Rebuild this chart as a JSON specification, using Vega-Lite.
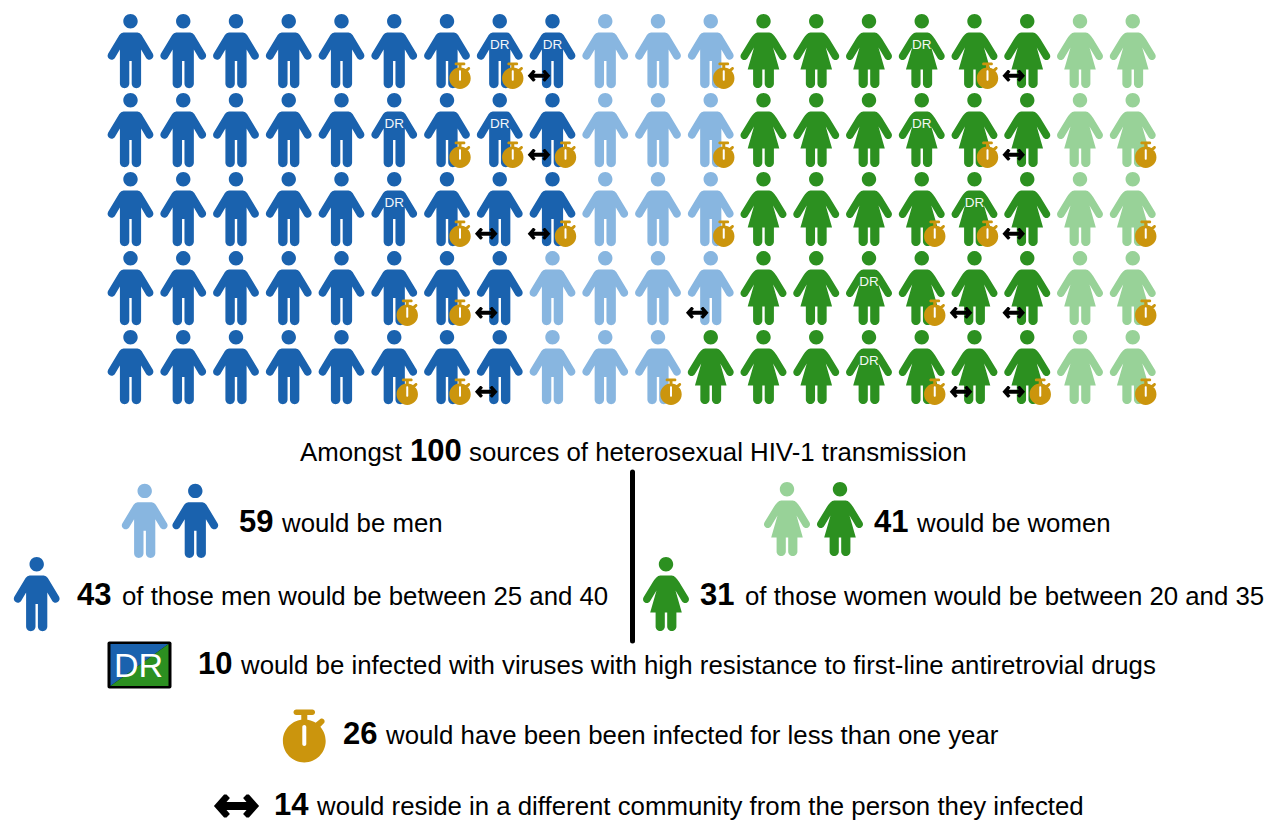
{"$schema":"https://vega.github.io/schema/vega-lite/v6.json","width":1267,"height":821,"padding":0,"autosize":{"type":"none"},"background":"white","config":{"view":{"stroke":null}},
"datasets":{
"people":[
{"col":1,"row":1,"group":"men25to40","figure":"man"},{"col":2,"row":1,"group":"men25to40","figure":"man"},{"col":3,"row":1,"group":"men25to40","figure":"man"},{"col":4,"row":1,"group":"men25to40","figure":"man"},{"col":5,"row":1,"group":"men25to40","figure":"man"},{"col":6,"row":1,"group":"men25to40","figure":"man"},{"col":7,"row":1,"group":"men25to40","figure":"man","recent":true},{"col":8,"row":1,"group":"men25to40","figure":"man","dr":true,"recent":true},{"col":9,"row":1,"group":"men25to40","figure":"man","dr":true,"moved":true},{"col":10,"row":1,"group":"menOther","figure":"man"},{"col":11,"row":1,"group":"menOther","figure":"man"},{"col":12,"row":1,"group":"menOther","figure":"man","recent":true},{"col":13,"row":1,"group":"women20to35","figure":"woman"},{"col":14,"row":1,"group":"women20to35","figure":"woman"},{"col":15,"row":1,"group":"women20to35","figure":"woman"},{"col":16,"row":1,"group":"women20to35","figure":"woman","dr":true},{"col":17,"row":1,"group":"women20to35","figure":"woman","recent":true},{"col":18,"row":1,"group":"women20to35","figure":"woman","moved":true},{"col":19,"row":1,"group":"womenOther","figure":"woman"},{"col":20,"row":1,"group":"womenOther","figure":"woman"},
{"col":1,"row":2,"group":"men25to40","figure":"man"},{"col":2,"row":2,"group":"men25to40","figure":"man"},{"col":3,"row":2,"group":"men25to40","figure":"man"},{"col":4,"row":2,"group":"men25to40","figure":"man"},{"col":5,"row":2,"group":"men25to40","figure":"man"},{"col":6,"row":2,"group":"men25to40","figure":"man","dr":true},{"col":7,"row":2,"group":"men25to40","figure":"man","recent":true},{"col":8,"row":2,"group":"men25to40","figure":"man","dr":true,"recent":true},{"col":9,"row":2,"group":"men25to40","figure":"man","recent":true,"moved":true},{"col":10,"row":2,"group":"menOther","figure":"man"},{"col":11,"row":2,"group":"menOther","figure":"man"},{"col":12,"row":2,"group":"menOther","figure":"man","recent":true},{"col":13,"row":2,"group":"women20to35","figure":"woman"},{"col":14,"row":2,"group":"women20to35","figure":"woman"},{"col":15,"row":2,"group":"women20to35","figure":"woman"},{"col":16,"row":2,"group":"women20to35","figure":"woman","dr":true},{"col":17,"row":2,"group":"women20to35","figure":"woman","recent":true},{"col":18,"row":2,"group":"women20to35","figure":"woman","moved":true},{"col":19,"row":2,"group":"womenOther","figure":"woman"},{"col":20,"row":2,"group":"womenOther","figure":"woman","recent":true},
{"col":1,"row":3,"group":"men25to40","figure":"man"},{"col":2,"row":3,"group":"men25to40","figure":"man"},{"col":3,"row":3,"group":"men25to40","figure":"man"},{"col":4,"row":3,"group":"men25to40","figure":"man"},{"col":5,"row":3,"group":"men25to40","figure":"man"},{"col":6,"row":3,"group":"men25to40","figure":"man","dr":true},{"col":7,"row":3,"group":"men25to40","figure":"man","recent":true},{"col":8,"row":3,"group":"men25to40","figure":"man","moved":true},{"col":9,"row":3,"group":"men25to40","figure":"man","recent":true,"moved":true},{"col":10,"row":3,"group":"menOther","figure":"man"},{"col":11,"row":3,"group":"menOther","figure":"man"},{"col":12,"row":3,"group":"menOther","figure":"man","recent":true},{"col":13,"row":3,"group":"women20to35","figure":"woman"},{"col":14,"row":3,"group":"women20to35","figure":"woman"},{"col":15,"row":3,"group":"women20to35","figure":"woman"},{"col":16,"row":3,"group":"women20to35","figure":"woman","recent":true},{"col":17,"row":3,"group":"women20to35","figure":"woman","dr":true,"recent":true},{"col":18,"row":3,"group":"women20to35","figure":"woman","moved":true},{"col":19,"row":3,"group":"womenOther","figure":"woman"},{"col":20,"row":3,"group":"womenOther","figure":"woman","recent":true},
{"col":1,"row":4,"group":"men25to40","figure":"man"},{"col":2,"row":4,"group":"men25to40","figure":"man"},{"col":3,"row":4,"group":"men25to40","figure":"man"},{"col":4,"row":4,"group":"men25to40","figure":"man"},{"col":5,"row":4,"group":"men25to40","figure":"man"},{"col":6,"row":4,"group":"men25to40","figure":"man","recent":true},{"col":7,"row":4,"group":"men25to40","figure":"man","recent":true},{"col":8,"row":4,"group":"men25to40","figure":"man","moved":true},{"col":9,"row":4,"group":"menOther","figure":"man"},{"col":10,"row":4,"group":"menOther","figure":"man"},{"col":11,"row":4,"group":"menOther","figure":"man"},{"col":12,"row":4,"group":"menOther","figure":"man","moved":true},{"col":13,"row":4,"group":"women20to35","figure":"woman"},{"col":14,"row":4,"group":"women20to35","figure":"woman"},{"col":15,"row":4,"group":"women20to35","figure":"woman","dr":true},{"col":16,"row":4,"group":"women20to35","figure":"woman","recent":true},{"col":17,"row":4,"group":"women20to35","figure":"woman","moved":true},{"col":18,"row":4,"group":"women20to35","figure":"woman","moved":true},{"col":19,"row":4,"group":"womenOther","figure":"woman"},{"col":20,"row":4,"group":"womenOther","figure":"woman","recent":true},
{"col":1,"row":5,"group":"men25to40","figure":"man"},{"col":2,"row":5,"group":"men25to40","figure":"man"},{"col":3,"row":5,"group":"men25to40","figure":"man"},{"col":4,"row":5,"group":"men25to40","figure":"man"},{"col":5,"row":5,"group":"men25to40","figure":"man"},{"col":6,"row":5,"group":"men25to40","figure":"man","recent":true},{"col":7,"row":5,"group":"men25to40","figure":"man","recent":true},{"col":8,"row":5,"group":"men25to40","figure":"man","moved":true},{"col":9,"row":5,"group":"menOther","figure":"man"},{"col":10,"row":5,"group":"menOther","figure":"man"},{"col":11,"row":5,"group":"menOther","figure":"man","recent":true},{"col":12,"row":5,"group":"women20to35","figure":"woman"},{"col":13,"row":5,"group":"women20to35","figure":"woman"},{"col":14,"row":5,"group":"women20to35","figure":"woman"},{"col":15,"row":5,"group":"women20to35","figure":"woman","dr":true},{"col":16,"row":5,"group":"women20to35","figure":"woman","recent":true},{"col":17,"row":5,"group":"women20to35","figure":"woman","moved":true},{"col":18,"row":5,"group":"women20to35","figure":"woman","recent":true,"moved":true},{"col":19,"row":5,"group":"womenOther","figure":"woman"},{"col":20,"row":5,"group":"womenOther","figure":"woman","recent":true}
],
"key":[
{"col":1.2692,"row":6.9456,"group":"menOther","figure":"man"},
{"col":2.2284,"row":6.9456,"group":"men25to40","figure":"man"},
{"col":13.4455,"row":6.9241,"group":"womenOther","figure":"woman"},
{"col":14.4502,"row":6.9241,"group":"women20to35","figure":"woman"},
{"col":-0.7782,"row":7.8734,"group":"men25to40","figure":"man"},
{"col":11.1517,"row":7.8734,"group":"women20to35","figure":"woman"},
{"col":1.1706,"row":8.7595,"group":"frame","figure":"frame"},
{"col":1.1706,"row":8.7595,"group":"men25to40","figure":"upper"},
{"col":1.1706,"row":8.7595,"group":"women20to35","figure":"lower"}
],
"numbers":[
{"col":6.2986,"row":6.1772,"label":"100"},
{"col":3.0569,"row":7.0759,"label":"59"},
{"col":15.0948,"row":7.0759,"label":"41"},
{"col":-0.0142,"row":8.0,"label":"43"},
{"col":11.7962,"row":8.0,"label":"31"},
{"col":2.2796,"row":8.8734,"label":"10"},
{"col":5.0284,"row":9.7658,"label":"26"},
{"col":3.7204,"row":10.6582,"label":"14"}
],
"sentences":[
{"col":4.2133,"row":6.1772,"label":"Amongst"},
{"col":7.4171,"row":6.1772,"label":"sources of heterosexual HIV-1 transmission"},
{"col":3.872,"row":7.0759,"label":"would be men"},
{"col":15.91,"row":7.0759,"label":"would be women"},
{"col":0.8389,"row":8.0,"label":"of those men would be between 25 and 40"},
{"col":12.6493,"row":8.0,"label":"of those women would be between 20 and 35"},
{"col":3.0948,"row":8.8734,"label":"would be infected with viruses with high resistance to first-line antiretrovial drugs"},
{"col":5.8436,"row":9.7595,"label":"would have been been infected for less than one year"},
{"col":4.5355,"row":10.6582,"label":"would reside in a different community from the person they infected"}
]
},
"encoding":{
"x":{"field":"col","type":"quantitative","axis":null,"scale":{"domain":[-1.47393,22.545],"nice":false,"zero":false}},
"y":{"field":"row","type":"quantitative","axis":null,"scale":{"domain":[0.34177,10.7342],"reverse":true,"nice":false,"zero":false}}
},
"layer":[
{"data":{"name":"people"},"mark":{"type":"point","filled":true,"opacity":1,"strokeWidth":0,"size":4},
"encoding":{"color":{"field":"group","type":"nominal","legend":null,"scale":{"domain":["men25to40","menOther","women20to35","womenOther","frame"],"range":["#1a62ae","#88b6e0","#2c9020","#98d298","#000000"]}},
"shape":{"field":"figure","type":"nominal","legend":null,"scale":{"domain":["man","woman","frame","upper","lower"],"range":[
"M -7 -19.5 L 7 -19.5 Q 9.5 -19.5 11.1 -17 L 22.4 1.7 A 4 4 0 0 1 15.6 5.9 L 10.6 -2.4 L 10.6 31.5 A 4.7 4.7 0 0 1 1.2 31.5 L 1.2 9 L -1.2 9 L -1.2 31.5 A 4.7 4.7 0 0 1 -10.6 31.5 L -10.6 -2.4 L -15.6 5.9 A 4 4 0 0 1 -22.4 1.7 L -11.1 -17 Q -9.5 -19.5 -7 -19.5 Z M -7.2 -30.8 A 7.2 7.2 0 1 1 7.2 -30.8 A 7.2 7.2 0 1 1 -7.2 -30.8 Z",
"M -5.7 -19.5 L 5.7 -19.5 C 8.5 -19.5 10.8 -16.5 13.15 -13 L 22.45 2.33 A 3.8 3.8 0 0 1 15.95 6.27 L 9.5 -4.4 L 15.8 17.5 L 10.4 17.5 L 10.4 31.5 A 4.6 4.6 0 0 1 1.2 31.5 L 1.2 17.5 L -1.2 17.5 L -1.2 31.5 A 4.6 4.6 0 0 1 -10.4 31.5 L -10.4 17.5 L -15.8 17.5 L -9.5 -4.4 L -15.95 6.27 A 3.8 3.8 0 0 1 -22.45 2.33 L -13.15 -13 C -10.8 -16.5 -8.5 -19.5 -5.7 -19.5 Z M -7.2 -30.8 A 7.2 7.2 0 1 1 7.2 -30.8 A 7.2 7.2 0 1 1 -7.2 -30.8 Z",
"M -30 -23.5 L 30 -23.5 A 2 2 0 0 1 32 -21.5 L 32 21.5 A 2 2 0 0 1 30 23.5 L -30 23.5 A 2 2 0 0 1 -32 21.5 L -32 -21.5 A 2 2 0 0 1 -30 -23.5 Z",
"M -29 21 L -29 -21 L 29 -21 Z",
"M -29 21 L 29 -21 L 29 21 Z"]}}}},
{"data":{"name":"key"},"mark":{"type":"point","filled":true,"opacity":1,"strokeWidth":0,"size":4},
"encoding":{"color":{"field":"group","type":"nominal","legend":null,"scale":{"domain":["men25to40","menOther","women20to35","womenOther","frame"],"range":["#1a62ae","#88b6e0","#2c9020","#98d298","#000000"]}},
"shape":{"field":"figure","type":"nominal","legend":null}}},
{"data":{"name":"people"},"transform":[{"filter":"datum.dr"}],"mark":{"type":"text","text":"DR","color":"#ffffff","opacity":0.95,"font":"Liberation Sans","fontSize":13.5,"align":"center","baseline":"middle","dy":-7}},
{"data":{"name":"people"},"transform":[{"filter":"datum.moved"}],"mark":{"type":"point","filled":true,"opacity":1,"strokeWidth":0,"size":4,"color":"#000000","xOffset":-13.5,"yOffset":23.7,"shape":"M -11.3 0 L -6.2 -5.8 L -5 -5.8 L -3.3 -4 L -5 -2 L 5 -2 L 3.3 -4 L 5 -5.8 L 6.2 -5.8 L 11.3 0 L 6.2 5.8 L 5 5.8 L 3.3 4 L 5 2 L -5 2 L -3.3 4 L -5 5.8 L -6.2 5.8 Z"}},
{"data":{"name":"people"},"transform":[{"filter":"datum.recent"}],"mark":{"type":"point","filled":true,"opacity":1,"strokeWidth":0,"size":4,"color":"#cb950d","xOffset":13,"yOffset":26.3,"shape":"M -10.7 0 A 10.7 10.7 0 1 1 10.7 0 A 10.7 10.7 0 1 1 -10.7 0 Z M -1 -7 L -1 1.5 A 1 1 0 0 0 1 1.5 L 1 -7 A 1 1 0 0 0 -1 -7 Z M -4 -15.8 L 4 -15.8 A 1.4 1.4 0 0 1 4 -13 L 1.5 -13 L 1.5 -10 L -1.5 -10 L -1.5 -13 L -4 -13 A 1.4 1.4 0 0 1 -4 -15.8 Z M 5.5 -9 L 8 -11 A 1.4 1.4 0 0 1 9.9 -9 L 7.5 -6.5 Z"}},
{"data":{"values":[{"col":4.2946,"row":9.7215}]},"mark":{"type":"point","filled":true,"opacity":1,"strokeWidth":0,"size":16,"color":"#cb950d","shape":"M -10.7 0 A 10.7 10.7 0 1 1 10.7 0 A 10.7 10.7 0 1 1 -10.7 0 Z M -1 -7 L -1 1.5 A 1 1 0 0 0 1 1.5 L 1 -7 A 1 1 0 0 0 -1 -7 Z M -4 -15.8 L 4 -15.8 A 1.4 1.4 0 0 1 4 -13 L 1.5 -13 L 1.5 -10 L -1.5 -10 L -1.5 -13 L -4 -13 A 1.4 1.4 0 0 1 -4 -15.8 Z M 5.5 -9 L 8 -11 A 1.4 1.4 0 0 1 9.9 -9 L 7.5 -6.5 Z"}},
{"data":{"values":[{"col":3.0095,"row":10.5443}]},"mark":{"type":"point","filled":true,"opacity":1,"strokeWidth":0,"size":16,"color":"#000000","shape":"M -11.3 0 L -6.2 -5.8 L -5 -5.8 L -3.3 -4 L -5 -2 L 5 -2 L 3.3 -4 L 5 -5.8 L 6.2 -5.8 L 11.3 0 L 6.2 5.8 L 5 5.8 L 3.3 4 L 5 2 L -5 2 L -3.3 4 L -5 5.8 L -6.2 5.8 Z"}},
{"data":{"values":[{"col":1.1516,"row":8.781}]},"mark":{"type":"text","text":"DR","color":"#ffffff","font":"Liberation Sans","fontSize":34,"align":"center","baseline":"middle"}},
{"data":{"values":[{"col":10.5166,"row":6.3165,"row2":8.4557}]},"mark":{"type":"rule","color":"#000000","strokeWidth":5,"strokeCap":"round"},"encoding":{"y2":{"field":"row2"}}},
{"data":{"name":"numbers"},"mark":{"type":"text","color":"#000000","font":"Liberation Sans","fontWeight":"bold","fontSize":31,"align":"left","baseline":"alphabetic"},"encoding":{"text":{"field":"label","type":"nominal"}}},
{"data":{"name":"sentences"},"mark":{"type":"text","color":"#000000","font":"Liberation Sans","fontSize":25.8,"align":"left","baseline":"alphabetic"},"encoding":{"text":{"field":"label","type":"nominal"}}}
]}
